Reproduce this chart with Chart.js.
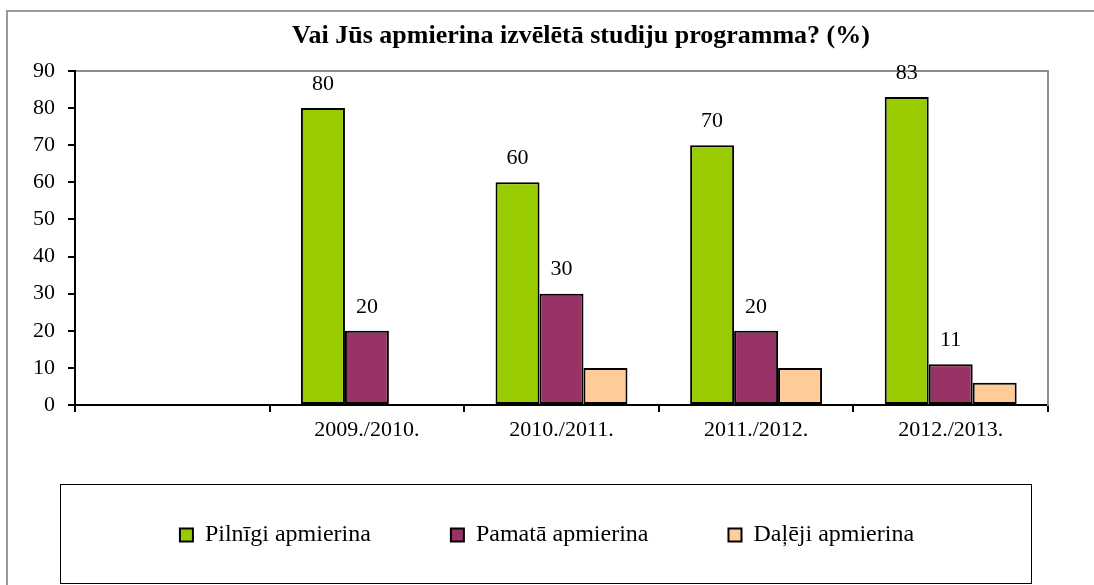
<!DOCTYPE html>
<html lang="lv">
<head>
<meta charset="utf-8">
<title>Vai Jūs apmierina izvēlētā studiju programma?</title>
<script src="https://cdn.jsdelivr.net/npm/chart.js@4/dist/chart.umd.min.js"></script>
<style>
  html, body { margin: 0; padding: 0; background: #fff; }
  #wrap { width: 1094px; height: 585px; }
</style>
</head>
<body>
<div id="wrap"><canvas id="chart" width="1094" height="585"></canvas></div>
<script>
// dati
const categories = ['', '2009./2010.', '2010./2011.', '2011./2012.', '2012./2013.'];
const pilnigi = [null, 80, 60, 70, 83];
const pamata = [null, 20, 30, 20, 11];
const daleji = [null, null, 10, 10, 6];
const seriesNames = ['Pilnīgi apmierina', 'Pamatā apmierina', 'Daļēji apmierina'];
const yTicks = [0, 10, 20, 30, 40, 50, 60, 70, 80, 90];
const titleText = 'Vai Jūs apmierina izvēlētā studiju programma? (%)';

const serif = "'Liberation Serif', 'Times New Roman', serif";

// rāmis, virsraksts un leģendas kaste
const framePlugin = {
  id: 'frame',
  beforeDraw(chart) {
    const ctx = chart.ctx;
    ctx.save();
    ctx.strokeStyle = '#9a9a9a';
    ctx.lineWidth = 2;
    ctx.beginPath();
    ctx.moveTo(7, 585);
    ctx.lineTo(7, 11);
    ctx.lineTo(1094, 11);
    ctx.stroke();
    ctx.restore();
  },
  afterDraw(chart) {
    const ctx = chart.ctx;
    ctx.save();
    ctx.fillStyle = '#000';
    ctx.font = 'bold 26px ' + serif;
    ctx.textAlign = 'center';
    ctx.textBaseline = 'middle';
    ctx.fillText(titleText, 581, 36);
    ctx.strokeStyle = '#000';
    ctx.lineWidth = 1;
    ctx.strokeRect(60.5, 484.5, 971, 99);
    ctx.restore();
  }
};

// vērtības virs stabiņiem (tikai pirmajām divām sērijām)
const valueLabels = {
  id: 'valueLabels',
  afterDatasetsDraw(chart) {
    const ctx = chart.ctx;
    ctx.save();
    ctx.fillStyle = '#000';
    ctx.font = '22px ' + serif;
    ctx.textAlign = 'center';
    ctx.textBaseline = 'middle';
    chart.data.datasets.forEach((ds, i) => {
      if (!ds.showValues) return;
      chart.getDatasetMeta(i).data.forEach((bar, j) => {
        const v = ds.data[j];
        if (v === null) return;
        ctx.fillText(String(v), bar.x, bar.y - 24);
      });
    });
    ctx.restore();
  }
};

const barStyle = {
  borderColor: '#000',
  borderWidth: 2,
  borderSkipped: false,
  barPercentage: 1,
  categoryPercentage: 0.678
};

new Chart(document.getElementById('chart'), {
  type: 'bar',
  data: {
    labels: categories,
    datasets: [
      { label: seriesNames[0], data: pilnigi, backgroundColor: '#99CC00', showValues: true, ...barStyle },
      { label: seriesNames[1], data: pamata, backgroundColor: '#993366', showValues: true, ...barStyle },
      { label: seriesNames[2], data: daleji, backgroundColor: '#FFCC99', showValues: false, ...barStyle }
    ]
  },
  options: {
    responsive: false,
    animation: false,
    layout: { padding: { top: 71, bottom: 28, left: 0, right: 0 } },
    plugins: {
      title: { display: false },
      tooltip: { enabled: false },
      legend: {
        position: 'bottom',
        labels: {
          color: '#000',
          font: { family: serif, size: 24 },
          boxWidth: 13,
          boxHeight: 13,
          padding: 80
        }
      }
    },
    scales: {
      x: {
        grid: {
          offset: true,
          drawOnChartArea: false,
          tickLength: 7,
          color: '#000',
          lineWidth: 2
        },
        border: { color: '#000', width: 2 },
        ticks: {
          color: '#000',
          font: { family: serif, size: 22 },
          padding: 5,
          maxRotation: 0
        },
        afterFit(s) { s.height = 38; }
      },
      x2: {
        position: 'top',
        grid: { display: false },
        ticks: { display: false },
        border: { color: '#8c8c8c', width: 2 },
        afterFit(s) { s.height = 0; }
      },
      y: {
        min: 0,
        max: 90,
        afterBuildTicks(s) { s.ticks = yTicks.map(v => ({ value: v })); },
        grid: {
          drawOnChartArea: false,
          tickLength: 7,
          color: '#000',
          lineWidth: 2
        },
        border: { color: '#000', width: 2 },
        ticks: {
          color: '#000',
          font: { family: serif, size: 22 },
          padding: 13
        },
        afterFit(s) { s.width = 75; }
      },
      y2: {
        position: 'right',
        min: 0,
        max: 90,
        grid: { display: false },
        ticks: { display: false },
        border: { color: '#8c8c8c', width: 2 },
        afterFit(s) { s.width = 46; }
      }
    }
  },
  plugins: [framePlugin, valueLabels]
});
</script>
</body>
</html>
